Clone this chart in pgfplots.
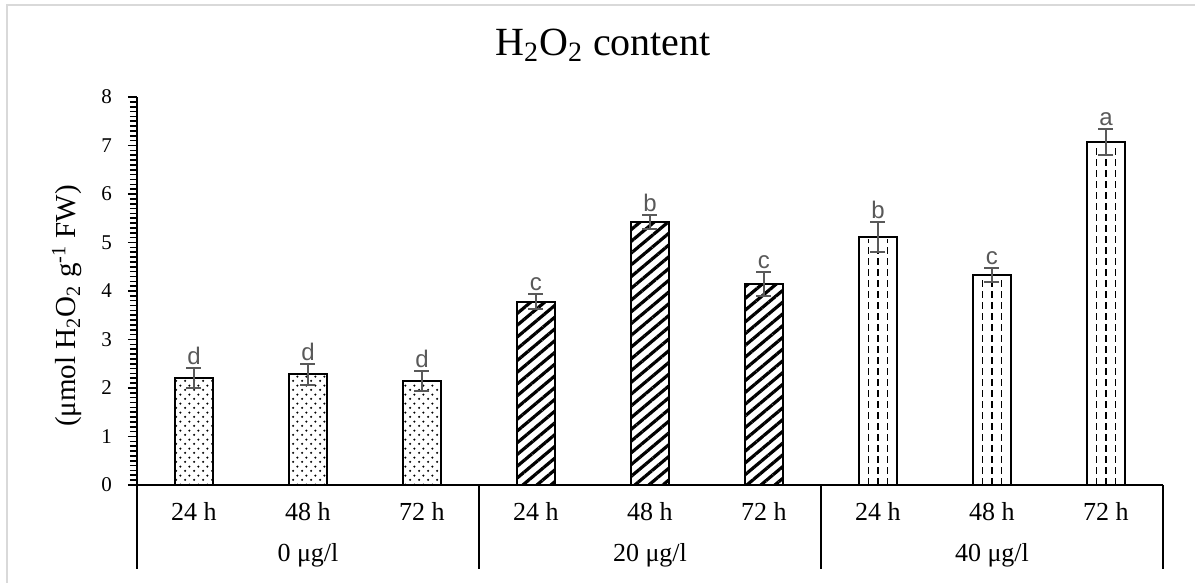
\documentclass[border=0pt]{standalone}
\usepackage{fontspec}
\setmainfont{Liberation Serif}
\newfontfamily\lettersf{Liberation Sans}
\usepackage{pgfplots}
\usepackage{pgfplotstable}
\pgfplotsset{compat=1.18}
\usetikzlibrary{patterns,patterns.meta}
\definecolor{errgray}{HTML}{595959}
\definecolor{bordergray}{HTML}{D9D9D9}
\tikzdeclarepattern{name=mydots, type=uncolored,
  bounding box={(0pt,0pt) and (4.6pt,4.6pt)}, tile size={(4.6pt,4.6pt)},
  code={\fill (1.15pt,1.15pt) circle (0.65pt); \fill (3.45pt,3.45pt) circle (0.65pt);}}

\pgfplotstableread{
x y e l
0 2.21 0.20 d
1 2.28 0.21 d
2 2.14 0.21 d
}\tzero
\pgfplotstableread{
x y e l
3 3.78 0.15 c
4 5.42 0.15 b
5 4.14 0.25 c
}\ttwenty
\pgfplotstableread{
x y e l
6 5.12 0.31 b
7 4.33 0.15 c
8 7.07 0.26 a
}\tforty

\pgfplotsset{
  letters/.style={draw=none, mark=none, nodes near coords, point meta=explicit symbolic,
    nodes near coords style={font=\lettersf\fontsize{12}{14}\selectfont, color=errgray, anchor=south, inner sep=1.5pt}},
  myerr/.style={error bars/.cd, y dir=both, y explicit,
    error bar style={draw=errgray, line width=1pt},
    error mark options={draw=errgray, rotate=90, mark size=3.75pt, line width=1pt}},
  mybar/.style={ybar, bar width=19pt, bar shift=0pt, draw=black, line width=1pt},
}

\begin{document}
\begin{tikzpicture}
\useasboundingbox (-68.5pt,-49pt) rectangle (529pt,242.5pt);
\draw[bordergray, line width=1pt] (-65pt,-49pt) -- (-65pt,240pt) -- (529pt,240pt);
\begin{axis}[
  at={(0,0)}, anchor=south west,
  scale only axis, width=513pt, height=194pt,
  xmin=-0.5, xmax=8.5, ymin=0, ymax=8,
  axis lines*=left,
  axis line style={line width=1pt},
  clip=false,
  xtick={0,...,8},
  xticklabels={24 h,48 h,72 h,24 h,48 h,72 h,24 h,48 h,72 h},
  x tick style={draw=none},
  xticklabel style={font=\fontsize{13}{15}\selectfont, anchor=base, yshift=-13.5pt},
  ytick={0,...,8},
  minor y tick num=9,
  tick align=outside,
  y tick style={black, line width=0.8pt},
  major tick length=4.5pt,
  minor tick length=3.5pt,
  yticklabel style={font=\fontsize{10.5}{12}\selectfont, xshift=-4.5pt},
  /pgf/number format/assume math mode=true,
]
\addplot[pattern=mydots, pattern color=black, mybar, myerr]
  table[x=x, y=y, y error=e] {\tzero};
\addplot[pattern={Lines[angle=40, distance=4.5pt, line width=1.6pt]}, pattern color=black, mybar, myerr]
  table[x=x, y=y, y error=e] {\ttwenty};
\addplot[fill=white, mybar] table[x=x, y=y] {\tforty};
% dashed columns inside the 40 ug/l bars
\addplot[ycomb, mark=none, black, line width=1.3pt, dash pattern=on 3.5pt off 2pt]
  table[x=x, y expr=\thisrow{y}-0.04] {\tforty};
\addplot[ycomb, mark=none, black, line width=0.8pt, dash pattern=on 3.5pt off 2pt]
  table[x expr=\thisrow{x}-0.0833, y expr=\thisrow{y}-0.04] {\tforty};
\addplot[ycomb, mark=none, black, line width=0.8pt, dash pattern=on 3.5pt off 2pt]
  table[x expr=\thisrow{x}+0.0833, y expr=\thisrow{y}-0.04] {\tforty};
\addplot[draw=none, mark=none, myerr] table[x=x, y=y, y error=e] {\tforty};
\addplot[letters] table[x=x, y expr=\thisrow{y}+\thisrow{e}, meta=l] {\tzero};
\addplot[letters] table[x=x, y expr=\thisrow{y}+\thisrow{e}, meta=l] {\ttwenty};
\addplot[letters] table[x=x, y expr=\thisrow{y}+\thisrow{e}, meta=l] {\tforty};
\draw[line width=1pt] (axis cs:-0.5,0) -- ([yshift=-42pt]axis cs:-0.5,0);
\draw[line width=1pt] (axis cs:2.5,0) -- ([yshift=-42pt]axis cs:2.5,0);
\draw[line width=1pt] (axis cs:5.5,0) -- ([yshift=-42pt]axis cs:5.5,0);
\draw[line width=1pt] (axis cs:8.5,0) -- ([yshift=-42pt]axis cs:8.5,0);
\node[font=\fontsize{13}{15}\selectfont, anchor=base] at ([yshift=-38.5pt]axis cs:1,0) {0 μg/l};
\node[font=\fontsize{13}{15}\selectfont, anchor=base] at ([yshift=-38.5pt]axis cs:4,0) {20 μg/l};
\node[font=\fontsize{13}{15}\selectfont, anchor=base] at ([yshift=-38.5pt]axis cs:7,0) {40 μg/l};
\node[font=\fontsize{20}{24}\selectfont] at ([xshift=233pt,yshift=220pt]rel axis cs:0,0) {H\textsubscript{2}O\textsubscript{2} content};
\node[rotate=90, font=\fontsize{14.5}{16}\selectfont] at ([xshift=-35pt,yshift=-7.5pt]rel axis cs:0,0.5) {(μmol H\textsubscript{2}O\textsubscript{2} g\textsuperscript{-1} FW)};
\end{axis}
\end{tikzpicture}
\end{document}
